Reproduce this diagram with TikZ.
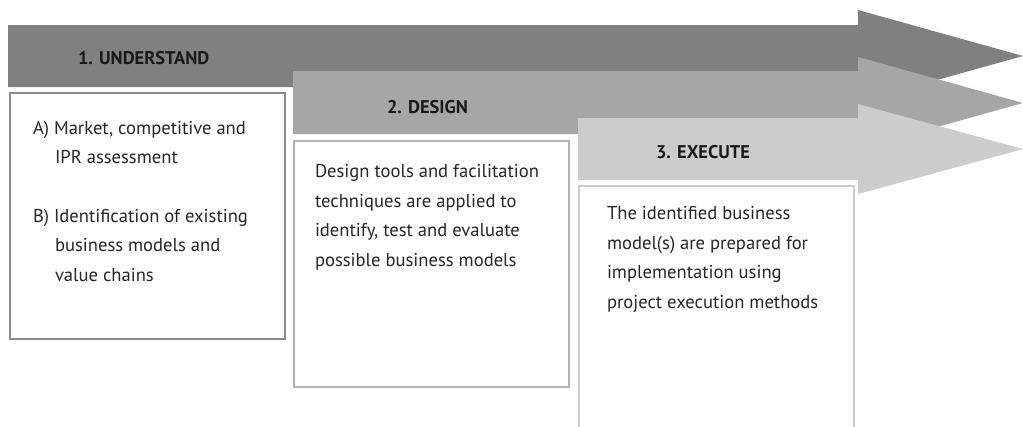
\documentclass[tikz,border=0pt]{standalone}
\usepackage{fontspec}
\setmainfont{PT Sans}
\usetikzlibrary{positioning}
\begin{document}
\begin{tikzpicture}[
x=1pt, y=-1pt,
phase1/.style={fill=black!50},
phase2/.style={fill=black!35},
phase3/.style={fill=black!20},
heading/.style={anchor=text, inner sep=0pt, text=black!90, font=\fontsize{18.4}{22}\selectfont\bfseries},
stagebox/.style={draw, line width=1.6pt, fill=white, anchor=north west, inner sep=0pt, minimum width=275, minimum height=246},
bodytext/.style={anchor=text, inner sep=0pt, align=left, text=black!85, font=\fontsize{18.6}{29.4}\selectfont},
]
\useasboundingbox (0,0) rectangle (1023,426);
\fill[phase1] (8,25) -- (858,25) -- (858,10) -- (1023,56) -- (858,102) -- (858,87) -- (8,87) -- cycle;
\fill[phase2] (293,71) -- (858,71) -- (858,57) -- (1023,103) -- (858,149) -- (858,134) -- (293,134) -- cycle;
\fill[phase3] (578,118) -- (858,118) -- (858,104) -- (1023,149) -- (858,194) -- (858,180) -- (578,180) -- cycle;
\node[heading] (understand) at (78,64) {1. UNDERSTAND};
\node[heading] (design) at (387,113) {2. DESIGN};
\node[heading] (execute) at (656,158) {3. EXECUTE};
\node[stagebox] [draw=black!45] (box1) at (9,92) {};
\node[stagebox] [draw=black!30] (box2) at (293,140) {};
\node[stagebox] [draw=black!20, minimum height=260] (box3) at (578,185) {};
\node[bodytext] (txt1) at (33,281) {A) Market, competitive and\\
	\hspace*{22pt}IPR assessment\\[29.4pt]
	B) Identification of existing\\
	\hspace*{22pt}business models and\\
	\hspace*{22pt}value chains};
\node[bodytext] (txt2) at (315,266) {Design tools and facilitation\\
	techniques are applied to\\
	identify, test and evaluate\\
	possible business models};
\node[bodytext] (txt3) at (607,308) {The identified business\\
	model(s) are prepared for\\
	implementation using\\
	project execution methods};
\end{tikzpicture}
\end{document}
